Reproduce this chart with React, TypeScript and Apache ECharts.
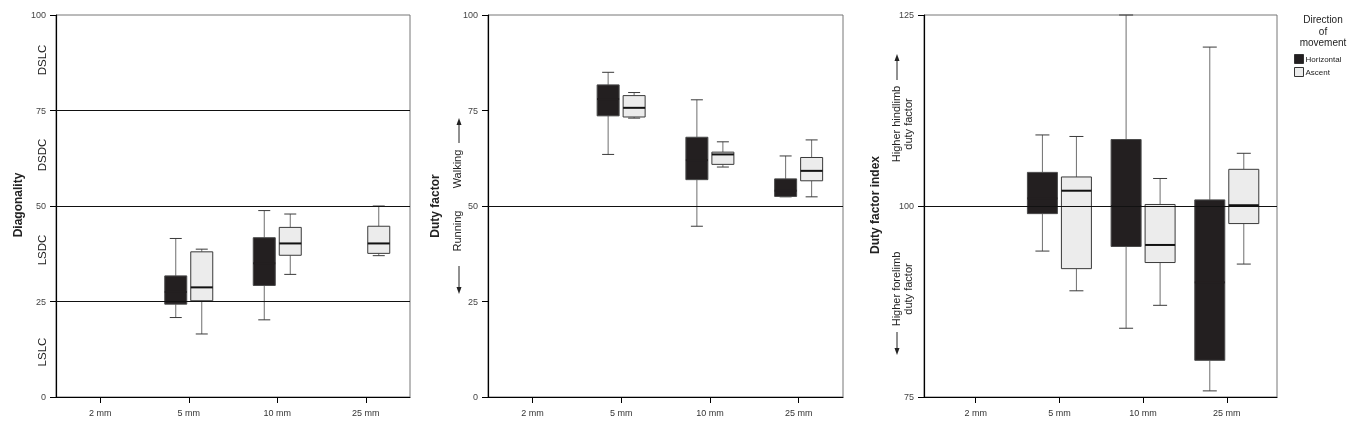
import React, { useEffect, useRef } from "react";
import * as echarts from "echarts";

const categories = ["2 mm", "5 mm", "10 mm", "25 mm"];
const tickPositions = [0, 1, 2, 3];

// Each entry: [min, Q1, median, Q3, max] per substrate diameter; null = no trials
type Box = number[] | null;

const diagonalityHorizontal: Box[] = [null, [20.8, 24.3, 27.5, 31.7, 41.5], [20.2, 29.2, 35.0, 41.7, 48.8], null];
const diagonalityAscent: Box[] = [null, [16.5, 25.2, 28.7, 38.0, 38.7], [32.1, 37.1, 40.2, 44.4, 47.9], [37.0, 37.6, 40.2, 44.7, 50.0]];

const dutyHorizontal: Box[] = [null, [63.5, 73.6, 78.0, 81.7, 85.0], [44.7, 56.9, 62.0, 68.0, 77.8], [52.4, 52.5, 54.0, 57.1, 63.1]];
const dutyAscent: Box[] = [null, [73.0, 73.3, 75.7, 78.9, 79.7], [60.2, 60.9, 63.5, 64.1, 66.8], [52.4, 56.6, 59.2, 62.7, 67.3]];

const indexHorizontal: Box[] = [null, [94.1, 99.0, 101.0, 104.4, 109.3], [84.0, 94.7, 100.0, 108.7, 125.0], [75.8, 79.8, 90.0, 100.8, 120.8]];
const indexAscent: Box[] = [null, [88.9, 91.8, 102.0, 103.8, 109.1], [87.0, 92.6, 94.9, 100.2, 103.6], [92.4, 97.7, 100.1, 104.8, 106.9]];

const diagonalityRefLines = [25, 50, 75];
const dutyRefLines = [50];
const indexRefLines = [100];

const gaitZones = ["DSLC", "DSDC", "LSDC", "LSLC"];

const FONT = "Liberation Sans, Arial, Helvetica, sans-serif";
const DARK = "#231f20";
const LIGHT = "#ececec";

function toRows(boxes: Box[]) {
  const rows: number[][] = [];
  boxes.forEach((b, i) => {
    if (b) rows.push([i, ...b]);
  });
  return rows;
}

function makeRenderItem(offset: number, boxW: number, capW: number, fill: string) {
  return (params: any, api: any) => {
    const i = api.value(0);
    const cx = api.coord([i, 0])[0] + offset;
    const y = (k: number) => api.coord([i, api.value(k)])[1];
    const yMin = y(1), yQ1 = y(2), yMed = y(3), yQ3 = y(4), yMax = y(5);
    const whisker = { stroke: "#6e6e6e", lineWidth: 1 };
    const cap = { stroke: "#3a3a3a", lineWidth: 1 };
    return {
      type: "group",
      children: [
        { type: "line", shape: { x1: cx, y1: yMax, x2: cx, y2: yQ3 }, style: whisker },
        { type: "line", shape: { x1: cx, y1: yQ1, x2: cx, y2: yMin }, style: whisker },
        { type: "line", shape: { x1: cx - capW / 2, y1: yMax, x2: cx + capW / 2, y2: yMax }, style: cap },
        { type: "line", shape: { x1: cx - capW / 2, y1: yMin, x2: cx + capW / 2, y2: yMin }, style: cap },
        {
          type: "rect",
          shape: { x: cx - boxW / 2, y: yQ3, width: boxW, height: yQ1 - yQ3 },
          style: { fill, stroke: fill === DARK ? "#4a4a4a" : "#3a3a3a", lineWidth: 1 },
        },
        {
          type: "line",
          shape: { x1: cx - boxW / 2, y1: yMed, x2: cx + boxW / 2, y2: yMed },
          style: { stroke: fill === DARK ? DARK : "#111", lineWidth: 2 },
        },
      ],
    };
  };
}

const grids = [
  { left: 56, top: 15, width: 354, height: 382 },
  { left: 488, top: 15, width: 355, height: 382 },
  { left: 924, top: 15, width: 353, height: 382 },
];

function xAxisFor(gridIndex: number, min: number, max: number) {
  return {
    type: "value",
    gridIndex,
    min,
    max,
    axisLine: { show: true, onZero: false, lineStyle: { color: "#000", width: 1.2 } },
    axisTick: { show: true, customValues: tickPositions, length: 6, lineStyle: { color: "#000" } },
    axisLabel: {
      customValues: tickPositions,
      formatter: (v: number) => categories[Math.round(v)] ?? "",
      fontSize: 9,
      color: "#333",
      margin: 11,
      fontFamily: FONT,
    },
    splitLine: { show: false },
  };
}

function yAxisFor(gridIndex: number, min: number, max: number) {
  return {
    type: "value",
    gridIndex,
    min,
    max,
    interval: 25,
    axisLine: { show: true, onZero: false, lineStyle: { color: "#000", width: 1.2 } },
    axisTick: { show: true, length: 6, lineStyle: { color: "#000" } },
    axisLabel: { fontSize: 9, color: "#444", margin: 10, fontFamily: FONT },
    splitLine: { show: false },
  };
}

function boxSeries(name: string, boxes: Box[], panel: number, offset: number, boxW: number, capW: number, fill: string) {
  return {
    type: "custom",
    name,
    xAxisIndex: panel,
    yAxisIndex: panel,
    data: toRows(boxes),
    renderItem: makeRenderItem(offset, boxW, capW, fill),
    itemStyle: { color: fill },
    z: 2,
  };
}

function refLineSeries(panel: number, values: number[]) {
  return {
    type: "line",
    xAxisIndex: panel,
    yAxisIndex: panel,
    data: [],
    silent: true,
    z: 5,
    markLine: {
      silent: true,
      symbol: ["none", "none"],
      label: { show: false },
      lineStyle: { color: "#111", width: 1, type: "solid" },
      data: values.map((v) => ({ yAxis: v })),
    },
  };
}

function vText(text: string, x: number, y: number, size: number, bold = false, lineHeight?: number) {
  return {
    type: "text",
    x,
    y,
    rotation: Math.PI / 2,
    style: {
      text,
      fontSize: size,
      fontWeight: bold ? "bold" : "normal",
      fontFamily: FONT,
      fill: "#222",
      align: "center",
      verticalAlign: "middle",
      lineHeight: lineHeight ?? size * 1.15,
    },
  };
}

function arrow(x: number, yFrom: number, yTo: number) {
  const dir = yTo < yFrom ? -1 : 1;
  const head = 7;
  return [
    { type: "line", shape: { x1: x, y1: yFrom, x2: x, y2: yTo - dir * head }, style: { stroke: "#222", lineWidth: 1 } },
    {
      type: "polygon",
      shape: { points: [[x, yTo], [x - 2.5, yTo - dir * head], [x + 2.5, yTo - dir * head]] },
      style: { fill: "#222" },
    },
  ];
}

export default function App() {
  const ref = useRef<HTMLDivElement>(null);

  useEffect(() => {
    if (!ref.current) return;
    const chart = echarts.init(ref.current, undefined, { renderer: "svg" });

    const zoneY = [60, 155, 250, 352];

    const option = {
      animation: false,
      textStyle: { fontFamily: FONT },
      grid: grids.map((g) => ({ ...g, show: true, borderColor: "#777", borderWidth: 1, containLabel: false })),
      xAxis: [xAxisFor(0, -0.5, 3.5), xAxisFor(1, -0.5, 3.5), xAxisFor(2, -0.618, 3.6)],
      yAxis: [yAxisFor(0, 0, 100), yAxisFor(1, 0, 100), yAxisFor(2, 75, 125)],
      legend: {
        left: 1294,
        top: 54,
        orient: "vertical",
        itemWidth: 9,
        itemHeight: 9,
        itemGap: 3,
        padding: 0,
        selectedMode: false,
        icon: "rect",
        textStyle: { fontSize: 8, color: "#222", fontFamily: FONT, padding: [0, 0, 0, -3] },
        data: [
          { name: "Horizontal", itemStyle: { color: DARK, borderColor: "#333", borderWidth: 1 } },
          { name: "Ascent", itemStyle: { color: LIGHT, borderColor: "#333", borderWidth: 1 } },
        ],
      },
      graphic: [
        vText("Diagonality", 18, 205, 12, true),
        ...gaitZones.map((z, i) => vText(z, 42, zoneY[i], 11.5)),
        vText("Duty factor", 435, 206, 12, true),
        vText("Walking", 457, 169, 11),
        vText("Running", 457, 231, 11),
        ...arrow(459, 143, 118),
        ...arrow(459, 266, 294),
        vText("Duty factor index", 875, 205, 12, true),
        vText("Higher hindlimb\nduty factor", 902, 124, 11, false, 12),
        vText("Higher forelimb\nduty factor", 902, 289, 11, false, 12),
        ...arrow(897, 80, 54),
        ...arrow(897, 332, 355),
        {
          type: "text",
          x: 1323,
          y: 14,
          style: {
            text: "Direction\nof\nmovement",
            fontSize: 10,
            lineHeight: 11.5,
            fontFamily: FONT,
            fill: "#222",
            align: "center",
            verticalAlign: "top",
          },
        },
      ],
      series: [
        boxSeries("Horizontal", diagonalityHorizontal, 0, -13, 22, 12, DARK),
        boxSeries("Ascent", diagonalityAscent, 0, 13, 22, 12, LIGHT),
        boxSeries("Horizontal", dutyHorizontal, 1, -13, 22, 12, DARK),
        boxSeries("Ascent", dutyAscent, 1, 13, 22, 12, LIGHT),
        boxSeries("Horizontal", indexHorizontal, 2, -17, 30, 14, DARK),
        boxSeries("Ascent", indexAscent, 2, 17, 30, 14, LIGHT),
        refLineSeries(0, diagonalityRefLines),
        refLineSeries(1, dutyRefLines),
        refLineSeries(2, indexRefLines),
      ],
    };

    chart.setOption(option as any);
    return () => chart.dispose();
  }, []);

  return <div ref={ref} style={{ position: "fixed", left: 0, top: 0, width: 1350, height: 425 }} />;
}
